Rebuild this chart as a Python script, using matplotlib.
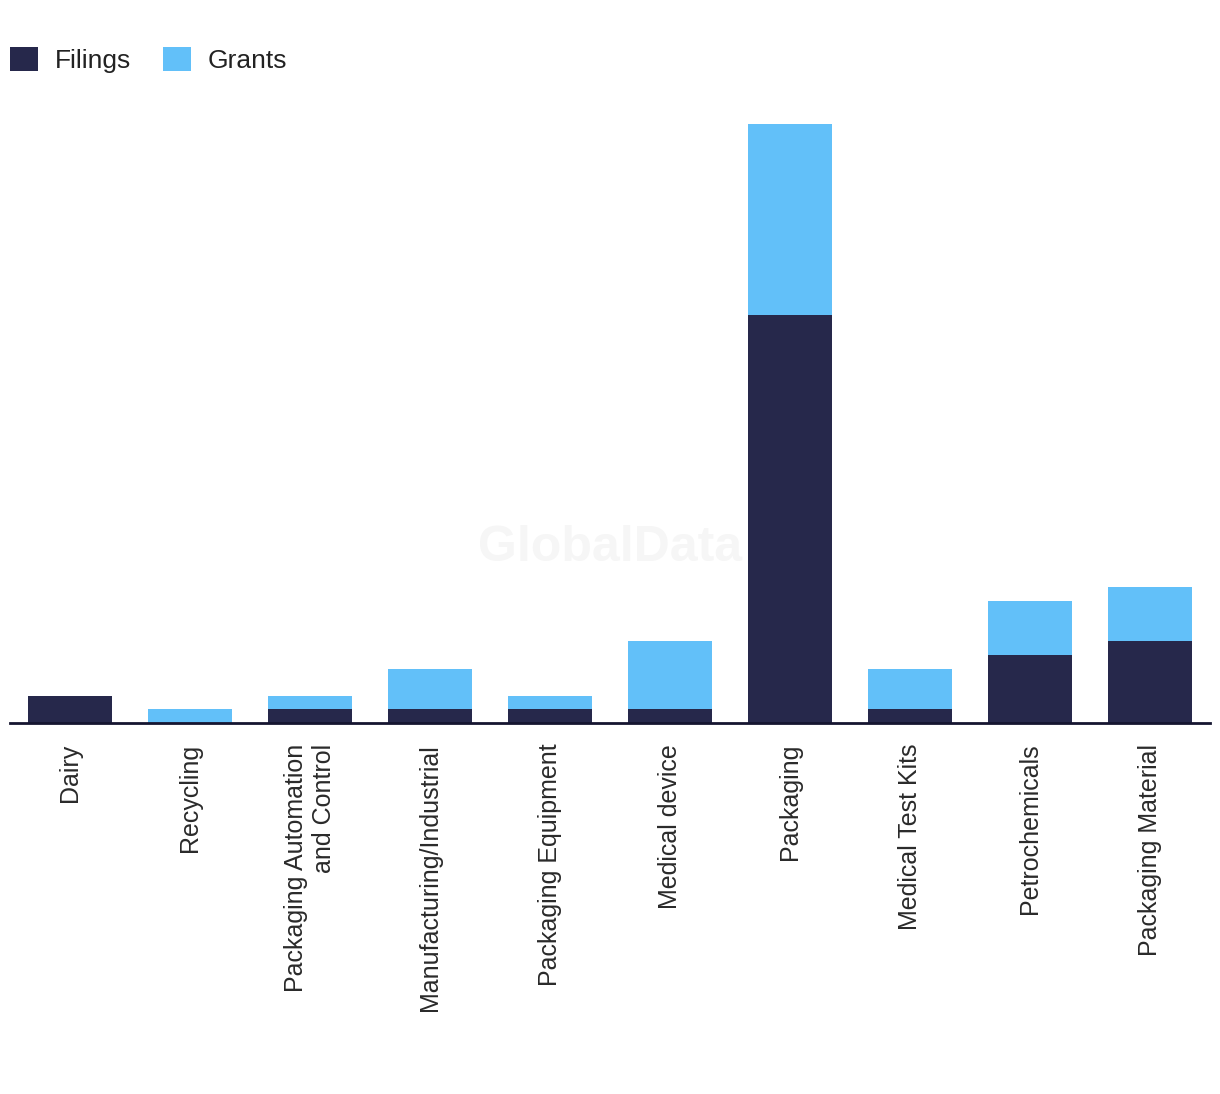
import numpy as np
import matplotlib
matplotlib.use('Agg')
import matplotlib.pyplot as plt

plt.rcParams['font.family'] = ['Liberation Sans', 'DejaVu Sans']

categories = ['Dairy', 'Recycling', 'Packaging Automation\nand Control',
              'Manufacturing/Industrial', 'Packaging Equipment', 'Medical device',
              'Packaging', 'Medical Test Kits', 'Petrochemicals', 'Packaging Material']
filings = np.array([2, 0, 1, 1, 1, 1, 30, 1, 5, 6])
grants = np.array([0, 1, 1, 3, 1, 5, 14, 3, 4, 4])

dark = '#26284b'
light = '#62c0f9'

fig = plt.figure(figsize=(12.2, 10.94), dpi=100)
ax = fig.add_axes([10/1220, 371/1094, 1200/1220, 626/1094])

x = np.arange(len(categories))
ax.bar(x, filings, width=0.7, color=dark, label='Filings', zorder=2)
ax.bar(x, grants, width=0.7, bottom=filings, color=light, label='Grants', zorder=2)

ax.set_xlim(-0.5, 9.5)
ax.set_ylim(0, 46)
ax.set_xticks(x)
ax.set_xticklabels(categories, rotation=90, fontsize=18, color='#2a2a2a',
                   va='top', ha='center', multialignment='right', linespacing=1.25)
ax.tick_params(axis='x', length=0, pad=15)
ax.set_yticks([])
for s in ['top', 'right', 'left']:
    ax.spines[s].set_visible(False)
ax.spines['bottom'].set_color('#151530')
ax.spines['bottom'].set_linewidth(2)

# watermark
fig.text(0.5, 1 - 548/1094, 'GlobalData', fontsize=36, fontweight='bold', color='#f6f6f6',
         ha='center', va='center', zorder=0)

fig.legend(loc='center left', bbox_to_anchor=(10/1220, 1 - 60/1094), ncol=2, frameon=False,
           fontsize=19, handlelength=1.06, handleheight=1.06, handletextpad=0.64,
           columnspacing=1.2, borderpad=0, borderaxespad=0, labelcolor='#222222')

fig.savefig('out.png', dpi=100, facecolor='white')
